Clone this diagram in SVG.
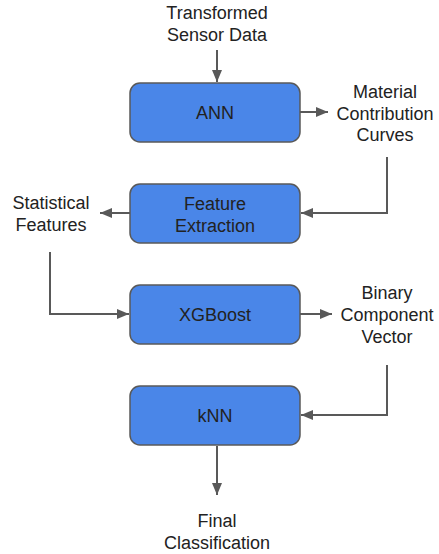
<svg xmlns="http://www.w3.org/2000/svg" width="439" height="554" viewBox="0 0 439 554">
<defs>
<marker id="ah" markerWidth="12" markerHeight="10" refX="12" refY="5" orient="auto" markerUnits="userSpaceOnUse">
<path d="M0,0 L12,5 L0,10 Z" fill="#595959"/>
</marker>
<style>
.box{fill:#4a86e8;stroke:#595959;stroke-width:1.5}
.t{font-family:"Liberation Sans",Arial,sans-serif;font-size:18px;fill:#222;text-anchor:middle}
.c{fill:none;stroke:#595959;stroke-width:2}
</style>
</defs>
<rect width="439" height="554" fill="#fff"/>
<g id="connectors">
<path class="c" d="M217,50 L217,82" marker-end="url(#ah)"/>
<path class="c" d="M300,112 L328,112" marker-end="url(#ah)"/>
<path class="c" d="M387,157 L387,213 L301,213" marker-end="url(#ah)"/>
<path class="c" d="M130,213 L100,213" marker-end="url(#ah)"/>
<path class="c" d="M50,252 L50,314 L129,314" marker-end="url(#ah)"/>
<path class="c" d="M300,314 L332,314" marker-end="url(#ah)"/>
<path class="c" d="M387,365 L387,415 L301,415" marker-end="url(#ah)"/>
<path class="c" d="M217,446 L217,495" marker-end="url(#ah)"/>
</g>
<g id="input">
<text class="t" x="217" y="19">Transformed</text>
<text class="t" x="217" y="41">Sensor Data</text>
</g>
<g id="ann">
<rect class="box" x="130" y="83" width="170" height="59" rx="10"/>
<text class="t" x="215" y="119">ANN</text>
</g>
<g id="curves">
<text class="t" x="385" y="98">Material</text>
<text class="t" x="385" y="120">Contribution</text>
<text class="t" x="385" y="141">Curves</text>
</g>
<g id="feature-extraction">
<rect class="box" x="130" y="184" width="170" height="59" rx="10"/>
<text class="t" x="215" y="210">Feature</text>
<text class="t" x="215" y="232">Extraction</text>
</g>
<g id="stat-features">
<text class="t" x="51" y="209">Statistical</text>
<text class="t" x="51" y="231">Features</text>
</g>
<g id="xgboost">
<rect class="box" x="130" y="285" width="170" height="59" rx="10"/>
<text class="t" x="215" y="321">XGBoost</text>
</g>
<g id="binary-vector">
<text class="t" x="387" y="299">Binary</text>
<text class="t" x="387" y="321">Component</text>
<text class="t" x="387" y="343">Vector</text>
</g>
<g id="knn">
<rect class="box" x="130" y="386" width="170" height="59" rx="10"/>
<text class="t" x="215" y="422">kNN</text>
</g>
<g id="output">
<text class="t" x="217" y="527">Final</text>
<text class="t" x="217" y="549">Classification</text>
</g>
</svg>
